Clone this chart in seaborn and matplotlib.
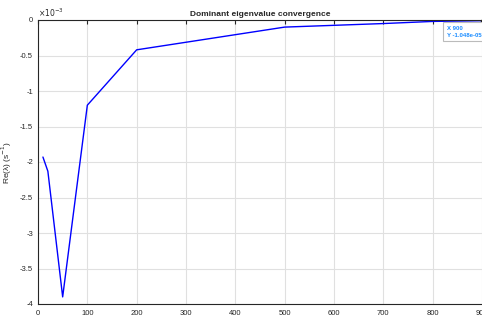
import matplotlib
matplotlib.use("Agg")
import matplotlib.pyplot as plt
import seaborn as sns
import pandas as pd
from matplotlib.ticker import FuncFormatter

# Data
N = [10, 20, 50, 100, 200, 500, 700, 800, 900]
re_lambda = [-1.93e-3, -2.13e-3, -3.90e-3, -1.20e-3, -0.42e-3, -0.10e-3, -0.05e-3, -0.02e-3, -1.048e-5]
x_ticks = [0, 100, 200, 300, 400, 500, 600, 700, 800, 900]
y_ticks = [0, -0.5e-3, -1e-3, -1.5e-3, -2e-3, -2.5e-3, -3e-3, -3.5e-3, -4e-3]

df = pd.DataFrame({"N": N, "re": re_lambda})

sns.set_style("white")
plt.rcParams['font.family'] = ['Liberation Sans', 'DejaVu Sans']

fig = plt.figure(figsize=(4.82, 3.2), dpi=100)
ax = fig.add_axes([38/482, 16/320, 444/482, 284/320])

sns.lineplot(data=df, x="N", y="re", ax=ax, color=(0, 0, 1), linewidth=1.0)

ax.set_xlim(0, 900)
ax.set_ylim(-4e-3, 0)
ax.set_xticks(x_ticks)
ax.set_yticks(y_ticks)
ax.yaxis.set_major_formatter(FuncFormatter(lambda v, p: ("%g" % round(v * 1e3, 3)) if v != 0 else "0"))
ax.grid(True, color="#e0e0e0", linewidth=0.8)
ax.set_axisbelow(True)
for s in ["left", "bottom", "top"]:
    ax.spines[s].set_color("#262626")
    ax.spines[s].set_linewidth(0.8)
ax.spines["right"].set_visible(False)
ax.tick_params(axis="both", direction="in", length=3, width=0.8, labelsize=5.5,
               colors="#262626", top=True, right=False)
ax.tick_params(axis="x", pad=4)

ax.set_title("Dominant eigenvalue convergence", fontsize=6, fontweight="bold", pad=3)
ax.set_ylabel("Re(λ) (s$^{-1}$)", fontsize=6, color="#262626", labelpad=4)
ax.set_xlabel("N", fontsize=6, color="#262626", labelpad=7)
ax.text(0.0, 1.005, r"$\times10^{-3}$", transform=ax.transAxes, fontsize=5.5,
        color="#262626", ha="left", va="bottom")

ax.text(829, -0.165e-3, "X 900\nY -1.048e-05", fontsize=4.3, color="#1a8cff",
        fontweight="bold", ha="left", va="center", linespacing=1.5,
        bbox=dict(boxstyle="square,pad=0.6", fc="white", ec="#bbbbbb", lw=0.8))
ax.plot([900], [-1.048e-5], marker="s", markersize=2, color="#1a1a1a", clip_on=False)

fig.savefig("out.png", dpi=100)
